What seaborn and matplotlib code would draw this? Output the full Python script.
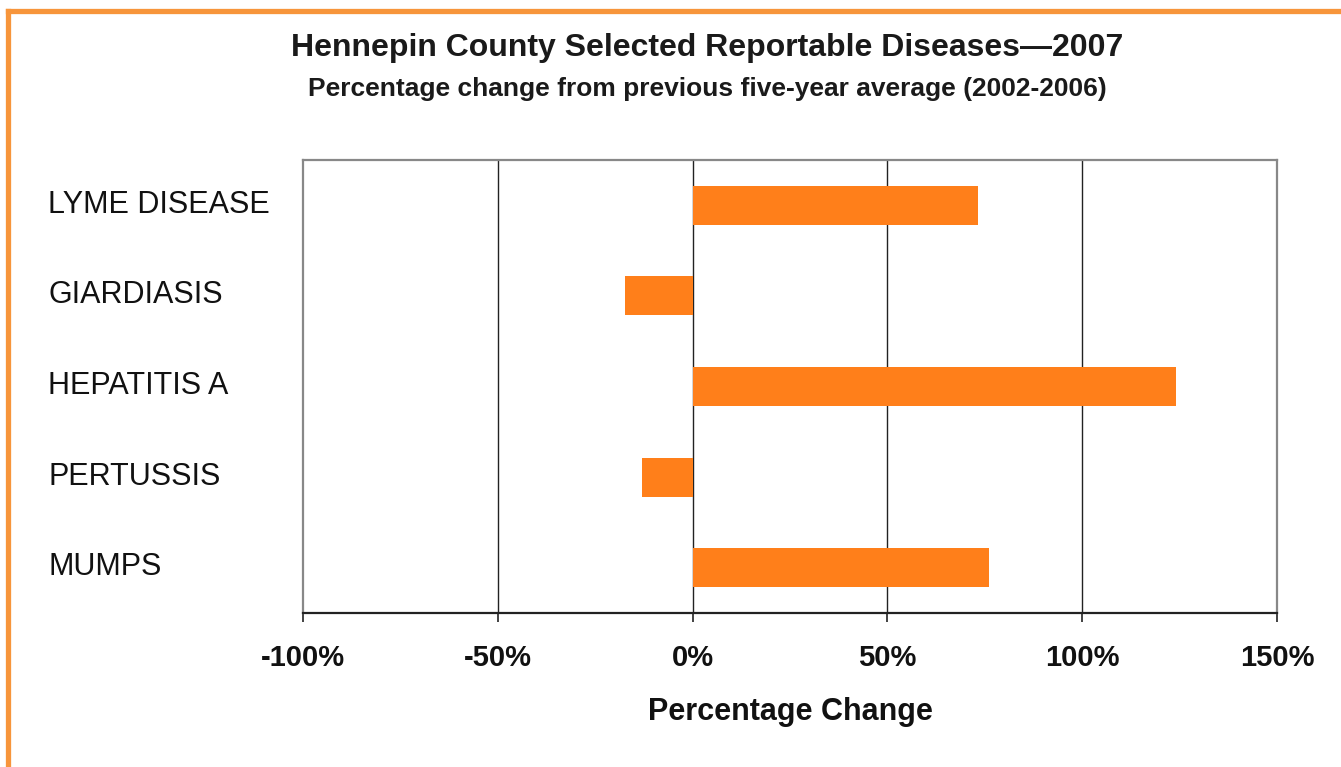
import matplotlib
matplotlib.use("Agg")
import matplotlib.pyplot as plt
import matplotlib.transforms as mtransforms
from matplotlib.lines import Line2D
import seaborn as sns
import pandas as pd

diseases = ["LYME DISEASE", "GIARDIASIS", "HEPATITIS A", "PERTUSSIS", "MUMPS"]
pct_change = [73.3, -17.3, 124.0, -13.1, 76.2]
x_ticks = [-100, -50, 0, 50, 100, 150]
x_tick_labels = ["-100%", "-50%", "0%", "50%", "100%", "150%"]

df = pd.DataFrame({"Disease": diseases, "Change": pct_change})

sns.set_style("white")
plt.rcParams["font.family"] = ["Liberation Sans", "DejaVu Sans"]

fig = plt.figure(figsize=(13.41, 7.67), dpi=100)
ax = fig.add_axes([303 / 1341, 1 - 613 / 767, 974 / 1341, 453 / 767])

sns.barplot(data=df, x="Change", y="Disease", orient="h", color="#FF7F1A",
            width=0.43, saturation=1, edgecolor="none", linewidth=0, ax=ax, zorder=3)

ax.set_xlim(-100, 150)
ax.set_ylim(4.5, -0.5)
ax.set_xticks(x_ticks)
ax.set_xticklabels(x_tick_labels, fontsize=21, fontweight="bold", color="#111111")
for v in x_ticks[1:-1]:
    ax.axvline(v, color="#222222", lw=1.0, zorder=2)

ax.tick_params(axis="x", bottom=True, direction="out", length=6.5, width=1.2,
               color="#222222", pad=16)
ax.tick_params(axis="y", left=False, length=0, pad=255 * 72 / 100)
for lab in ax.get_yticklabels():
    lab.set_fontsize(22)
    lab.set_horizontalalignment("left")
    lab.set_color("#111111")
    lab.set_transform(lab.get_transform() +
                      mtransforms.ScaledTranslation(0, 4 / 100, fig.dpi_scale_trans))

ax.set_ylabel("")
ax.set_xlabel("Percentage Change", fontsize=22, fontweight="bold", color="#111111", labelpad=18)

for side in ["left", "top", "right"]:
    ax.spines[side].set_color("#888888")
    ax.spines[side].set_linewidth(1.6)
ax.spines["bottom"].set_color("#222222")
ax.spines["bottom"].set_linewidth(1.6)

fig.text(707.5 / 1341, 1 - 48 / 767, "Hennepin County Selected Reportable Diseases\u20142007",
         ha="center", va="center", fontsize=23, fontweight="bold", color="#1a1a1a")
fig.text(707.5 / 1341, 1 - 89 / 767, "Percentage change from previous five-year average (2002-2006)",
         ha="center", va="center", fontsize=19, fontweight="bold", color="#1a1a1a")

# orange frame on left and top
border = "#F7953B"
fig.add_artist(Line2D([7.5 / 1341, 7.5 / 1341], [0, 1 - 10.5 / 767], color=border, lw=3.8,
                      transform=fig.transFigure, solid_capstyle="projecting"))
fig.add_artist(Line2D([7.5 / 1341, 1], [1 - 10.5 / 767, 1 - 10.5 / 767], color=border, lw=3.8,
                      transform=fig.transFigure, solid_capstyle="projecting"))

fig.savefig("out.png", dpi=100)
